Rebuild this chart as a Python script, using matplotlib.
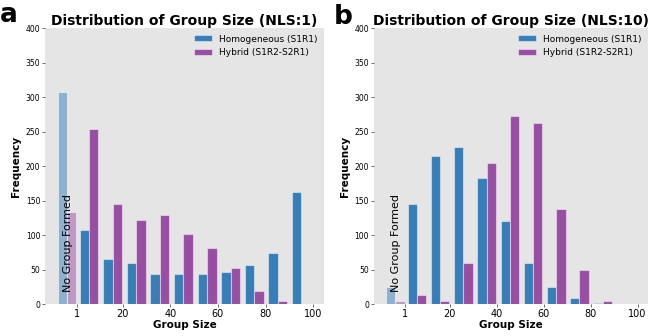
import numpy as np
import matplotlib.pyplot as plt

# counts per group-size bin (10 bins from 1 to 100)
homog_nls1 = [108, 65, 60, 44, 43, 43, 46, 56, 74, 163]
hybrid_nls1 = [254, 145, 122, 129, 102, 81, 53, 19, 4, 0]
homog_nls10 = [145, 214, 228, 183, 120, 60, 25, 9, 2, 0]
hybrid_nls10 = [13, 5, 59, 204, 272, 263, 138, 49, 4, 0]

# "no group formed" counts
nogroup_nls1 = [307, 133]
nogroup_nls10 = [25, 4]

titles = ["Distribution of Group Size (NLS:1)", "Distribution of Group Size (NLS:10)"]
panel_letters = ["a", "b"]
series_labels = ["Homogeneous (S1R1)", "Hybrid (S1R2-S2R1)"]
xtick_vals = [1, 20, 40, 60, 80, 100]

BLUE = "#377eb8"
PURPLE = "#984ea3"
BG = "#e5e5e5"

edges = np.linspace(1, 100, 11)
centers = (edges[:-1] + edges[1:]) / 2
ng_edges = np.array([-8.25, 1.65])
ng_center = ng_edges.mean()

fig = plt.figure(figsize=(6.64, 3.36), dpi=100)
axes = [fig.add_axes([0.068, 0.095, 0.420, 0.821]),
        fig.add_axes([0.563, 0.095, 0.413, 0.821])]

data = [(homog_nls1, hybrid_nls1, nogroup_nls1),
        (homog_nls10, hybrid_nls10, nogroup_nls10)]

for ax, (homog, hybrid, nogroup), title in zip(axes, data, titles):
    ax.set_facecolor(BG)
    for s in ax.spines.values():
        s.set_visible(False)

    ax.hist([centers, centers], bins=edges, weights=[homog, hybrid],
            color=[BLUE, PURPLE], label=series_labels,
            edgecolor=(1, 1, 1, 0.45), linewidth=0.8)
    ax.hist([[ng_center], [ng_center]], bins=ng_edges,
            weights=[[nogroup[0]], [nogroup[1]]],
            color=[BLUE, PURPLE], alpha=0.5,
            edgecolor=(1, 1, 1, 0.45), linewidth=0.8)

    ax.text(-2.8, 17, "No Group Formed", rotation=90, ha="center",
            va="bottom", fontsize=8)

    ax.set_xlim(-12.45, 104.5)
    ax.set_ylim(0, 400)
    ax.set_xticks(xtick_vals)
    ax.set_yticks(np.arange(0, 401, 50))
    ax.tick_params(axis="x", labelsize=7, length=2, width=0.6,
                   color="#555555", pad=1.5)
    ax.tick_params(axis="y", labelsize=5.5, length=2, width=0.6,
                   color="#555555", pad=1.5)
    ax.set_xlabel("Group Size", fontsize=7.5, fontweight="bold", labelpad=1)
    ax.set_ylabel("Frequency", fontsize=7.5, fontweight="bold", labelpad=3)
    ax.set_title(title, fontsize=10, fontweight="bold", pad=2)
    ax.legend(loc="upper right", frameon=False, fontsize=6.5,
              handlelength=2.0, handleheight=0.6, borderaxespad=0.3,
              labelspacing=0.5)

fig.text(0.0, 0.935, panel_letters[0], fontsize=19, fontweight="bold",
         va="baseline", ha="left")
fig.text(0.503, 0.929, panel_letters[1], fontsize=19, fontweight="bold",
         va="baseline", ha="left")

fig.savefig("out.png", dpi=100)
